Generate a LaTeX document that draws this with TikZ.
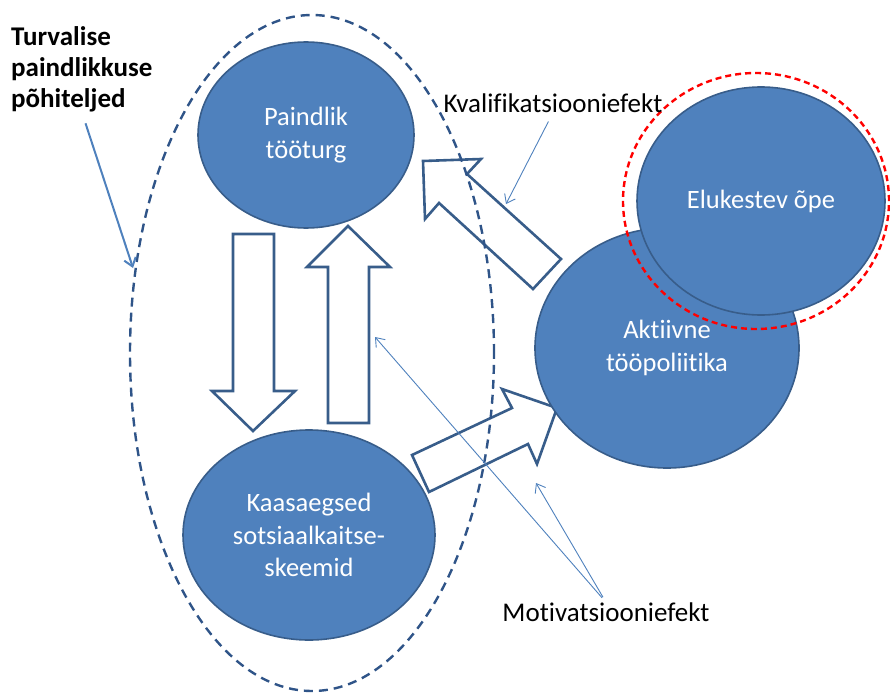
\documentclass[tikz,border=0pt]{standalone}
\usepackage{fontspec}
\setmainfont{Carlito}[Ligatures=NoCommon]
\usetikzlibrary{positioning,arrows.meta,shapes.geometric}
\definecolor{oBlue}{HTML}{4F81BD}
\definecolor{oEdge}{HTML}{385D8A}
\definecolor{oRing}{HTML}{2F5488}
\tikzset{
  blob/.style={ellipse, fill=oBlue, draw=oEdge, line width=1.6pt, text=white,
    align=center, inner sep=0pt, font=\fontsize{26.5}{32.5}\selectfont},
  fatarrow/.style={draw=oEdge, fill=white, line width=2.6pt, line join=miter},
  hint/.style={draw=oBlue, line width=0.9pt, -{Straight Barb[length=8pt,width=12pt]}},
  lbl/.style={inner sep=0pt, font=\fontsize{27}{32}\selectfont}
}
\begin{document}
\begin{tikzpicture}[x=1pt,y=-1pt]
\useasboundingbox (0,0) rectangle (890,693);
% block arrows
\draw[fatarrow] (233,234) -- (274,234) -- (274,391) -- (295,391) -- (253,431) -- (212,391) -- (233,391) -- cycle;
\draw[fatarrow] (328,423) -- (369,423) -- (369,267) -- (390,267) -- (348,226) -- (307,267) -- (328,267) -- cycle;
\draw[fatarrow] (561,259) -- (467,174) -- (481,159) -- (423,161) -- (425,219) -- (439,203) -- (533,289) -- cycle;
\draw[fatarrow] (412,455) -- (512,408) -- (502,389) -- (557,408) -- (537,464) -- (528,444) -- (429,492) -- cycle;
% axes
\node[blob, minimum width=216pt, minimum height=186pt] (labour) at (306,135) {Paindlik\\tööturg};
\node[blob, minimum width=252pt, minimum height=210pt] (social) at (309,535) {Kaasaegsed\\sotsiaalkaitse-\\skeemid};
\node[blob, minimum width=264pt, minimum height=240pt] (active) at (667,348) {Aktiivne\\tööpoliitika};
\node[blob, minimum width=248pt, minimum height=228pt] (lifelong) at (761,201) {Elukestev õpe};
% rings
\draw[oRing, line width=2.4pt, dash pattern=on 9pt off 6pt] (312,353) ellipse [x radius=182pt, y radius=338pt];
\draw[red, line width=2.4pt, dash pattern=on 6pt off 4pt] (756,201) ellipse [x radius=133pt, y radius=128pt];
% labels
\node[lbl, font=\fontsize{27}{31}\selectfont\bfseries, align=left, anchor=north west] (title) at (11,26) {Turvalise\\paindlikkuse\\põhiteljed};
\node[lbl] (qual) at (553,103) {Kvalifikatsiooniefekt};
\node[lbl] (motiv) at (606,612) {Motivatsiooniefekt};
\coordinate (titleTo) at (133,268);
\coordinate (qualTo) at (506,204);
\coordinate (motivUp) at (375,337);
\coordinate (motivArrow) at (536,483);
\draw[hint, line width=2pt, shorten <=12pt] (title.south) -- (titleTo);
\draw[hint, shorten <=10pt] (qual.south) -- (qualTo);
\draw[hint, shorten <=6pt] (motiv.north) -- (motivUp);
\draw[hint, shorten <=6pt] (motiv.north) -- (motivArrow);
\end{tikzpicture}
\end{document}
